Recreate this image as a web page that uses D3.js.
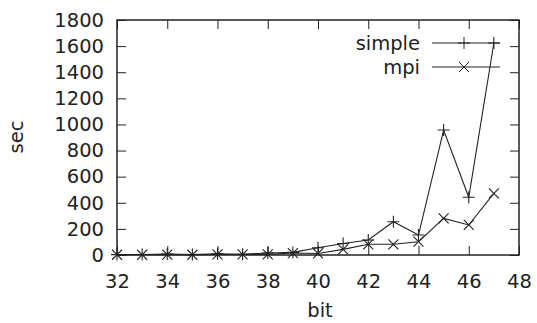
<!DOCTYPE html>
<html>
<head>
<meta charset="utf-8">
<script src="https://cdn.jsdelivr.net/npm/d3@7"></script>
<style>
  body { margin: 0; background: #fff; }
  svg text { font-family: "DejaVu Sans", sans-serif; fill: #222; }
</style>
</head>
<body>
<div id="chart"></div>
<script>
// data
const bits = [32, 33, 34, 35, 36, 37, 38, 39, 40, 41, 42, 43, 44, 45, 46, 47];
const simpleSec = [3, 4, 8, 3, 9, 6, 15, 20, 55, 88, 115, 255, 153, 957, 442, 1624];
const mpiSec = [2, 2, 3, 2, 4, 4, 5, 15, 12, 43, 82, 82, 102, 280, 230, 472];
const xTicks = [32, 34, 36, 38, 40, 42, 44, 46, 48];
const yTicks = [0, 200, 400, 600, 800, 1000, 1200, 1400, 1600, 1800];

const width = 537, height = 323;
const margin = { top: 20, right: 18, bottom: 68, left: 117 };
const innerW = width - margin.left - margin.right;
const innerH = height - margin.top - margin.bottom;
const ink = "#222";
const fontSize = 19.5;
const tickLen = 9;

const svg = d3.select("#chart").append("svg")
  .attr("width", width)
  .attr("height", height);

const g = svg.append("g")
  .attr("transform", `translate(${margin.left},${margin.top})`);

const x = d3.scaleLinear().domain([32, 48]).range([0, innerW]);
const y = d3.scaleLinear().domain([0, 1800]).range([innerH, 0]);

// axes: labels on bottom/left, mirrored inward ticks on all four sides
function styleAxis(sel) {
  sel.select(".domain").remove();
  sel.selectAll(".tick line").attr("stroke", ink).attr("stroke-width", 1);
  sel.selectAll(".tick text")
    .style("font-size", `${fontSize}px`)
    .attr("fill", ink);
}

g.append("g")
  .attr("transform", `translate(0,${innerH})`)
  .call(d3.axisBottom(x).tickValues(xTicks).tickSize(-tickLen).tickPadding(19).tickFormat(d3.format("d")))
  .call(styleAxis);
g.append("g")
  .call(d3.axisTop(x).tickValues(xTicks).tickSize(-tickLen).tickFormat(""))
  .call(styleAxis);
g.append("g")
  .call(d3.axisLeft(y).tickValues(yTicks).tickSize(-tickLen).tickPadding(13).tickFormat(d3.format("d")))
  .call(styleAxis);
g.append("g")
  .attr("transform", `translate(${innerW},0)`)
  .call(d3.axisRight(y).tickValues(yTicks).tickSize(-tickLen).tickFormat(""))
  .call(styleAxis);

g.append("rect")
  .attr("width", innerW)
  .attr("height", innerH)
  .attr("fill", "none")
  .attr("stroke", ink)
  .attr("stroke-width", 1.5);

// axis titles
svg.append("text")
  .attr("x", margin.left + innerW / 2 + 2)
  .attr("y", 317)
  .attr("text-anchor", "middle")
  .style("font-size", `${fontSize}px`)
  .text("bit");
svg.append("text")
  .attr("transform", `translate(23,137) rotate(-90)`)
  .attr("text-anchor", "middle")
  .style("font-size", `${fontSize}px`)
  .text("sec");

// series
const plusPath = r => `M${-r},0H${r}M0,${-r}V${r}`;
const crossPath = r => `M${-r},${-r}L${r},${r}M${-r},${r}L${r},${-r}`;

const series = [
  { name: "simple", values: simpleSec, marker: plusPath(6) },
  { name: "mpi", values: mpiSec, marker: crossPath(5) },
];

const line = d3.line()
  .x(d => x(d[0]))
  .y(d => y(d[1]));

series.forEach((s, si) => {
  const pts = bits.map((b, i) => [b, s.values[i]]);
  g.append("path")
    .datum(pts)
    .attr("fill", "none")
    .attr("stroke", ink)
    .attr("stroke-width", 1.1)
    .attr("d", line);
  g.selectAll(null)
    .data(pts)
    .enter()
    .append("path")
    .attr("transform", d => `translate(${x(d[0])},${y(d[1])})`)
    .attr("d", s.marker)
    .attr("fill", "none")
    .attr("stroke", ink)
    .attr("stroke-width", 1.1);

  // legend
  const ly = 43 + si * 24;
  const lg = svg.append("g").attr("transform", `translate(0,${ly})`);
  lg.append("text")
    .attr("x", 420)
    .attr("y", 0)
    .attr("dy", "0.35em")
    .attr("text-anchor", "end")
    .style("font-size", `${fontSize}px`)
    .text(s.name);
  lg.append("line")
    .attr("x1", 432).attr("x2", 500)
    .attr("y1", 0).attr("y2", 0)
    .attr("stroke", ink);
  lg.append("path")
    .attr("transform", "translate(464,0)")
    .attr("d", s.marker)
    .attr("fill", "none")
    .attr("stroke", ink);
});
</script>
</body>
</html>
